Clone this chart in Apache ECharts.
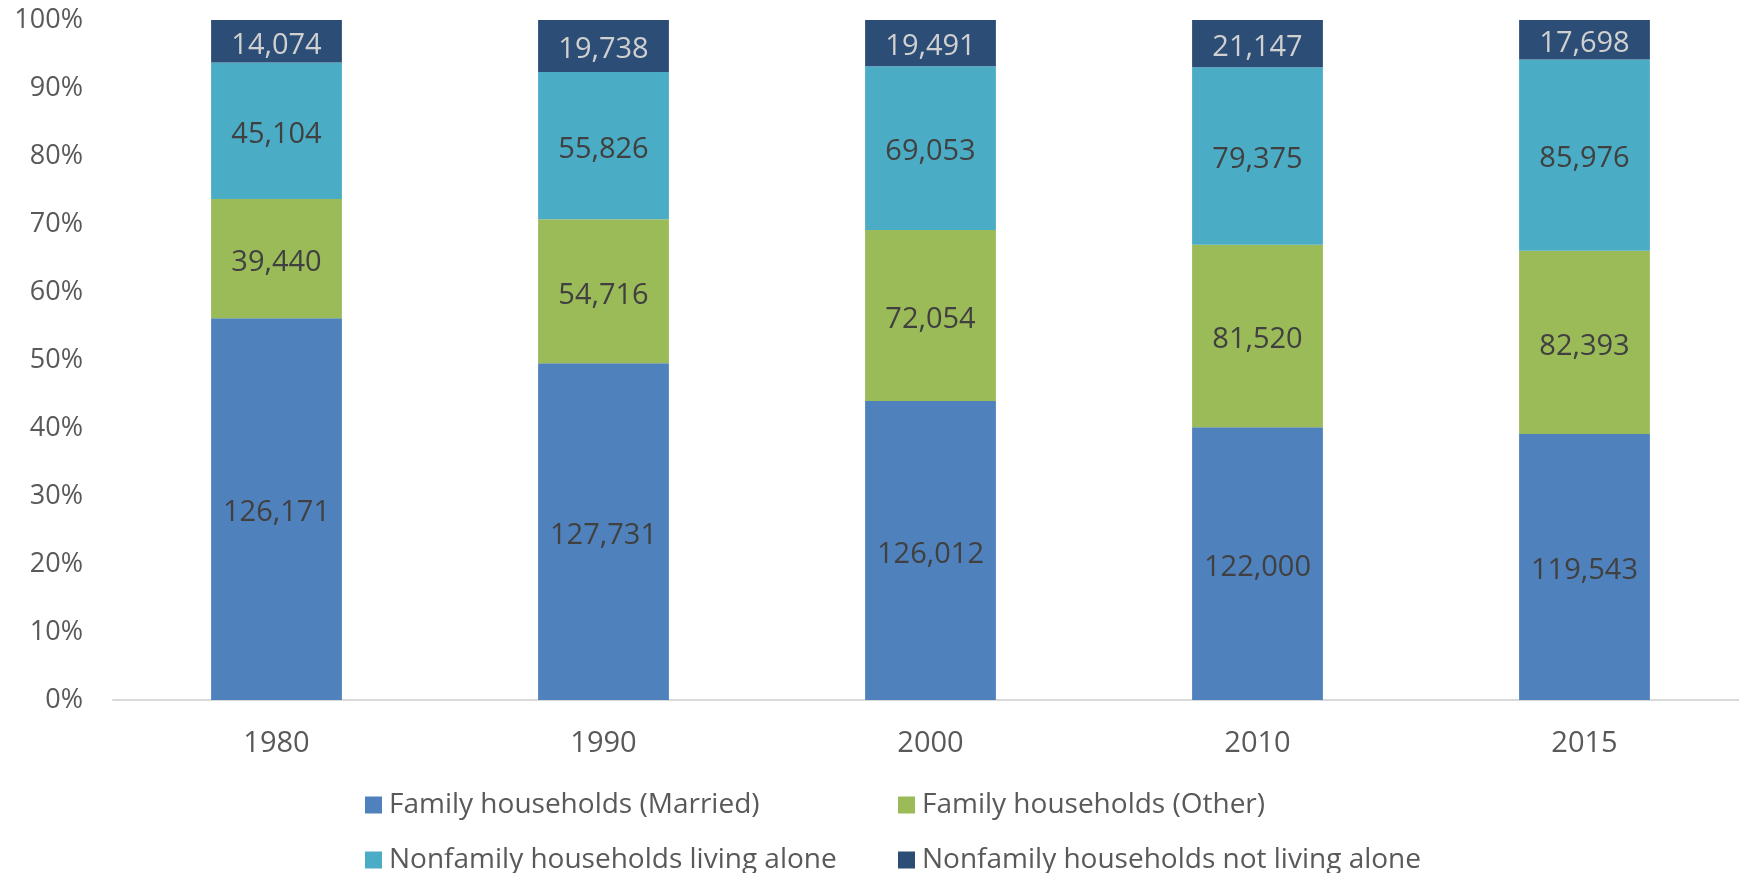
<!DOCTYPE html>
<html>
<head>
<meta charset="utf-8">
<script src="https://cdn.jsdelivr.net/npm/echarts@6/dist/echarts.min.js"></script>
<style>
html,body{margin:0;padding:0;background:#fff;}
#chart{width:1739px;height:873px;}
</style>
</head>
<body>
<div id="chart"></div>
<script>
const categories = ['1980', '1990', '2000', '2010', '2015'];
const married = [126171, 127731, 126012, 122000, 119543];
const familyOther = [39440, 54716, 72054, 81520, 82393];
const livingAlone = [45104, 55826, 69053, 79375, 85976];
const notLivingAlone = [14074, 19738, 19491, 21147, 17698];
const yTicks = [0, 10, 20, 30, 40, 50, 60, 70, 80, 90, 100];

const names = ['Family households (Married)', 'Family households (Other)',
  'Nonfamily households living alone', 'Nonfamily households not living alone'];
const raws = [married, familyOther, livingAlone, notLivingAlone];
const colors = ['#4F81BD', '#9BBB59', '#4BACC6', '#2C4D75'];
const labelColors = ['#404040', '#404040', '#404040', '#D0D0D0'];

const totals = categories.map((c, i) => raws.reduce((s, a) => s + a[i], 0));
const FONT = 'Open Sans';

const series = raws.map((arr, k) => ({
  name: names[k],
  type: 'bar',
  stack: 'total',
  barWidth: '40%',
  data: arr.map((v, i) => v / totals[i] * 100),
  itemStyle: { color: colors[k] },
  label: {
    show: true,
    position: 'inside',
    offset: [0, 4],
    fontFamily: FONT,
    fontSize: 29,
    color: labelColors[k],
    formatter: p => raws[k][p.dataIndex].toLocaleString('en-US')
  }
}));

const legendPos = [[360, 803], [893, 803], [360, 858], [893, 858]];
const legends = names.map((n, k) => ({
  orient: 'horizontal',
  left: legendPos[k][0],
  top: legendPos[k][1] - 17,
  itemWidth: 17, itemHeight: 17, icon: 'rect',
  data: [n],
  textStyle: { fontFamily: FONT, fontSize: 28, color: '#595959', padding: [0, 0, 0, 2] }
}));

const chart = echarts.init(document.getElementById('chart'));
chart.setOption({
  animation: false,
  backgroundColor: '#fff',
  grid: { left: 113, top: 20, bottom: 173, width: 1635, outerBoundsMode: 'none' },
  xAxis: {
    type: 'category',
    data: categories,
    axisLine: { lineStyle: { color: '#D9D9D9', width: 2 } },
    axisTick: { show: false },
    axisLabel: { fontFamily: FONT, fontSize: 29, color: '#595959', margin: 29 }
  },
  yAxis: {
    type: 'value',
    min: yTicks[0],
    max: yTicks[yTicks.length - 1],
    interval: yTicks[1] - yTicks[0],
    splitLine: { show: false },
    axisLine: { show: false },
    axisTick: { show: false },
    axisLabel: { fontFamily: FONT, fontSize: 27, color: '#595959', margin: 30, formatter: '{value}%' }
  },
  legend: legends,
  series: series
});
</script>
</body>
</html>
